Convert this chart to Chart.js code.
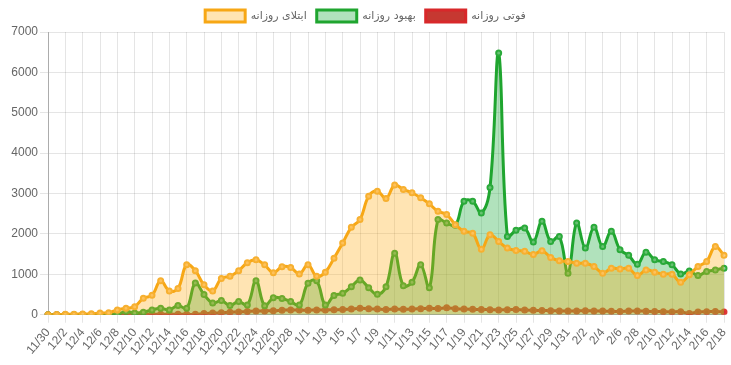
<!DOCTYPE html>
<html>
<head>
<meta charset="utf-8">
<script src="https://cdn.jsdelivr.net/npm/chart.js"></script>
<style>
  html, body { margin: 0; padding: 0; background: #fff; }
  #wrap { width: 731px; height: 365px; }
</style>
</head>
<body>
<div id="wrap"><canvas id="chart"></canvas></div>
<script>
// --- data ---
const dates = [
  "11/30",
  "12/1", "12/2", "12/3", "12/4", "12/5", "12/6", "12/7", "12/8", "12/9", "12/10",
  "12/11", "12/12", "12/13", "12/14", "12/15", "12/16", "12/17", "12/18", "12/19", "12/20",
  "12/21", "12/22", "12/23", "12/24", "12/25", "12/26", "12/27", "12/28", "12/30",
  "1/1", "1/2", "1/3", "1/4", "1/5", "1/6", "1/7", "1/8", "1/9", "1/10",
  "1/11", "1/12", "1/13", "1/14", "1/15", "1/16", "1/17", "1/18", "1/19", "1/20",
  "1/21", "1/22", "1/23", "1/24", "1/25", "1/26", "1/27", "1/28", "1/29", "1/30", "1/31",
  "2/1", "2/2", "2/3", "2/4", "2/5", "2/6", "2/7", "2/8", "2/9", "2/10",
  "2/11", "2/12", "2/13", "2/14", "2/15", "2/16", "2/17", "2/18"
];

const dailyCases = [
  0, 5, 10, 15, 20, 25, 40, 50, 120, 160,
  200, 410, 480, 840, 590, 650, 1240, 1090, 740, 590,
  900, 950, 1090, 1290, 1360, 1235, 1040, 1190, 1170, 1010,
  1235, 950, 1055, 1400, 1775, 2165, 2355, 2935, 3060, 2880,
  3210, 3100, 3020, 2895, 2745, 2560, 2480, 2230, 2065, 2020,
  1620, 1980, 1815, 1650, 1590, 1570, 1490, 1585, 1420, 1335,
  1320, 1275, 1275, 1195, 1030, 1150, 1135, 1150, 970, 1110,
  1055, 1005, 1005, 805, 990, 1195, 1320, 1690, 1470
];

const dailyRecovered = [
  0, 0, 0, 5, 5, 5, 10, 5, 10, 80,
  40, 60, 120, 160, 120, 230, 160, 785, 500, 290,
  350, 230, 330, 240, 840, 225, 420, 405, 325, 240,
  780, 840, 240, 475, 530, 695, 860, 670, 505, 695,
  1525, 720, 805, 1235, 670, 2355, 2270, 2215, 2810, 2810,
  2520, 3150, 6480, 1940, 2090, 2145, 1800, 2315, 1815, 1940,
  1030, 2270, 1650, 2165, 1690, 2065, 1610, 1470, 1250, 1550,
  1360, 1320, 1235, 1010, 1080, 970, 1070, 1110, 1150
];

const dailyDeaths = [
  0, 0, 0, 0, 0, 0, 0, 0, 0, 0,
  10, 10, 10, 10, 10, 10, 10, 10, 30, 40,
  50, 60, 70, 80, 90, 95, 100, 110, 120, 115,
  110, 120, 120, 125, 130, 140, 160, 150, 140, 130,
  140, 135, 140, 150, 160, 155, 170, 150, 140, 135,
  130, 125, 120, 125, 130, 115, 110, 105, 100, 95,
  90, 95, 100, 95, 90, 85, 80, 90, 95, 85,
  80, 75, 70, 75, 30, 70, 75, 80, 70
];

const yTicks = [0, 1000, 2000, 3000, 4000, 5000, 6000, 7000];

// --- chart ---
new Chart(document.getElementById("chart"), {
  type: "line",
  data: {
    labels: dates,
    datasets: [
      {
        label: "ابتلای روزانه",
        data: dailyCases,
        borderColor: "#f7a715",
        backgroundColor: "rgba(255,170,20,0.32)",
        pointBackgroundColor: "rgba(255,200,110,0.8)",
        pointBorderColor: "#f7b030",
        fill: "origin",
      },
      {
        label: "بهبود روزانه",
        data: dailyRecovered,
        borderColor: "#1fa52f",
        backgroundColor: "rgba(40,175,70,0.36)",
        pointBackgroundColor: "rgba(120,200,130,0.8)",
        pointBorderColor: "#2aaa3a",
        fill: "origin",
      },
      {
        label: "فوتی روزانه",
        data: dailyDeaths,
        borderColor: "#d8282a",
        backgroundColor: "rgba(195,45,38,0.95)",
        pointBackgroundColor: "#d83030",
        pointBorderColor: "#e03838",
        fill: false,
      },
    ],
  },
  options: {
    responsive: true,
    maintainAspectRatio: false,
    animation: false,
    layout: { padding: { left: 0, right: 0, bottom: 4 } },
    elements: {
      line: { tension: 0.4, borderWidth: 3 },
      point: { radius: 2.5, borderWidth: 2 },
    },
    plugins: {
      legend: {
        position: "top",
        labels: {
          boxWidth: 40,
          boxHeight: 12,
          color: "#666",
          font: { size: 11, family: "'DejaVu Sans', sans-serif" },
          padding: 10,
        },
      },
      tooltip: { enabled: false },
    },
    scales: {
      x: {
        afterFit: (scale) => {
          // pin the plot edges where the reference has them
          scale.paddingLeft = 48;
          scale.paddingRight = 7;
        },
        grid: { color: "rgba(0,0,0,0.1)", tickLength: 8 },
        border: { color: "rgba(0,0,0,0.25)" },
        ticks: {
          color: "#666",
          font: { size: 12, family: "Arial, 'Liberation Sans', sans-serif" },
          minRotation: 50,
          maxRotation: 50,
          autoSkip: false,
          callback: (v, i) => (i % 2 === 0 ? dates[i] : null),
        },
      },
      y: {
        min: 0,
        max: 7000,
        afterBuildTicks: (axis) => {
          axis.ticks = yTicks.map((v) => ({ value: v }));
        },
        grid: { color: "rgba(0,0,0,0.1)", tickLength: 8 },
        border: { color: "rgba(0,0,0,0.25)" },
        ticks: {
          color: "#666",
          font: { size: 12, family: "Arial, 'Liberation Sans', sans-serif" },
          padding: 2,
          callback: (v) => String(v),
        },
      },
    },
  },
});
</script>
</body>
</html>
